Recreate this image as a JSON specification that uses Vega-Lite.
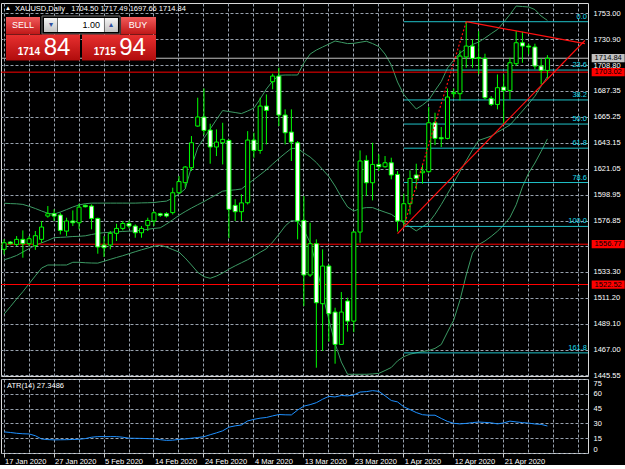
{
"$schema":"https://vega.github.io/schema/vega-lite/v6.json",
"background":"#000000",
"padding":{"left":0,"top":2,"right":0,"bottom":0},
"spacing":3,
"bounds":"flush",
"config":{"view":{"stroke":"#d8d8d8","strokeWidth":1},"concat":{"spacing":3},
"axis":{"labelFont":"Liberation Sans","labelFontSize":7.5,"labelColor":"#ffffff","gridColor":"#98a2ae","gridDash":[3,2],"gridWidth":1,"domain":false,"tickColor":"#c8c8c8","labelOverlap":false},
"text":{"font":"Liberation Sans"}},
"datasets":{
"bars":[
{"d":"17 Jan 2020","o":1552.4,"h":1561,"l":1548,"c":1558,"u":1591.6,"m":1543.5,"lb":1497.4,"atr":21.4},
{"d":"19 Jan 2020","o":1558.6,"h":1559.5,"l":1556.5,"c":1557.2,"u":1591.3,"m":1545.2,"lb":1503.7,"atr":20.8},
{"d":"20 Jan 2020","o":1556.6,"h":1563.7,"l":1555.2,"c":1560.9,"u":1591.1,"m":1547.2,"lb":1510.2,"atr":20},
{"d":"21 Jan 2020","o":1560.9,"h":1568.5,"l":1545.3,"c":1557.2,"u":1590.6,"m":1550.1,"lb":1516.4,"atr":19.5},
{"d":"22 Jan 2020","o":1557.2,"h":1563.7,"l":1555.2,"c":1561.4,"u":1589,"m":1553,"lb":1523.2,"atr":19.3},
{"d":"23 Jan 2020","o":1555.5,"h":1568,"l":1552,"c":1564,"u":1587.1,"m":1555.9,"lb":1529.9,"atr":17.5},
{"d":"24 Jan 2020","o":1560.9,"h":1576.5,"l":1558,"c":1571.4,"u":1585,"m":1557.9,"lb":1536.5,"atr":14.2},
{"d":"26 Jan 2020","o":1580.7,"h":1589.2,"l":1579.3,"c":1582.7,"u":1583.1,"m":1560,"lb":1539.1,"atr":13.6},
{"d":"27 Jan 2020","o":1582.7,"h":1586.4,"l":1576.5,"c":1580.7,"u":1582.4,"m":1562.3,"lb":1539.1,"atr":13.3},
{"d":"28 Jan 2020","o":1581.6,"h":1583.5,"l":1565.1,"c":1568.5,"u":1584.1,"m":1562.6,"lb":1539.1,"atr":13.4},
{"d":"29 Jan 2020","o":1567.9,"h":1579.3,"l":1563.7,"c":1576.5,"u":1586.2,"m":1562.9,"lb":1539.1,"atr":13.5},
{"d":"30 Jan 2020","o":1576.5,"h":1585.5,"l":1572.2,"c":1575,"u":1588.4,"m":1563.3,"lb":1541.4,"atr":13.7},
{"d":"31 Jan 2020","o":1575,"h":1591.2,"l":1569.4,"c":1588.3,"u":1590.2,"m":1563.5,"lb":1541.4,"atr":13.9},
{"d":"2 Feb 2020","o":1589.8,"h":1590.5,"l":1588,"c":1588.6,"u":1591.2,"m":1563.9,"lb":1541,"atr":14.6},
{"d":"3 Feb 2020","o":1589.2,"h":1590.6,"l":1569.4,"c":1578.7,"u":1591.7,"m":1565,"lb":1540.8,"atr":16},
{"d":"4 Feb 2020","o":1578.7,"h":1579.3,"l":1548.7,"c":1554.4,"u":1591.7,"m":1566,"lb":1540.7,"atr":16.6},
{"d":"5 Feb 2020","o":1556.1,"h":1563.7,"l":1545.9,"c":1553.8,"u":1591.7,"m":1566.6,"lb":1542.3,"atr":16.6},
{"d":"6 Feb 2020","o":1556.1,"h":1568,"l":1552.4,"c":1566,"u":1591.7,"m":1566.9,"lb":1543.9,"atr":16.6},
{"d":"7 Feb 2020","o":1566,"h":1574.2,"l":1559.5,"c":1570.2,"u":1591.7,"m":1567.3,"lb":1545.5,"atr":16.6},
{"d":"9 Feb 2020","o":1570.2,"h":1576.5,"l":1568.5,"c":1574.4,"u":1591.7,"m":1567.6,"lb":1547,"atr":16},
{"d":"10 Feb 2020","o":1574.4,"h":1577,"l":1570.2,"c":1572.2,"u":1591.7,"m":1567.9,"lb":1548.7,"atr":15},
{"d":"11 Feb 2020","o":1572.2,"h":1573.6,"l":1562.3,"c":1566.5,"u":1591.7,"m":1568,"lb":1550.4,"atr":14.9},
{"d":"12 Feb 2020","o":1566.5,"h":1572.2,"l":1562.3,"c":1570.2,"u":1591.9,"m":1568.7,"lb":1552,"atr":14.8},
{"d":"13 Feb 2020","o":1572.8,"h":1579.3,"l":1568,"c":1577,"u":1592,"m":1569.4,"lb":1553.5,"atr":14.6},
{"d":"14 Feb 2020","o":1576.5,"h":1584.9,"l":1572.2,"c":1583.5,"u":1592.2,"m":1570.2,"lb":1555,"atr":14.4},
{"d":"16 Feb 2020","o":1582.7,"h":1583.5,"l":1580,"c":1581.3,"u":1592.9,"m":1570.7,"lb":1555.9,"atr":13.5},
{"d":"17 Feb 2020","o":1582.7,"h":1584,"l":1579.5,"c":1580.7,"u":1593.4,"m":1573.9,"lb":1554.4,"atr":12.8},
{"d":"18 Feb 2020","o":1583.6,"h":1604.8,"l":1582,"c":1600.5,"u":1596,"m":1577.5,"lb":1552.2,"atr":13},
{"d":"19 Feb 2020","o":1600.5,"h":1614.7,"l":1599.7,"c":1610,"u":1599.4,"m":1581.3,"lb":1550.1,"atr":13.8},
{"d":"20 Feb 2020","o":1609.1,"h":1623.2,"l":1604.8,"c":1622.4,"u":1603.7,"m":1584.5,"lb":1545,"atr":14.2},
{"d":"21 Feb 2020","o":1621.8,"h":1648.7,"l":1619,"c":1643,"u":1622.4,"m":1587.5,"lb":1539.1,"atr":15},
{"d":"23 Feb 2020","o":1657.2,"h":1681.3,"l":1656.6,"c":1664.9,"u":1638.8,"m":1590.3,"lb":1532.9,"atr":15.7},
{"d":"24 Feb 2020","o":1664.9,"h":1689.2,"l":1649.6,"c":1653.5,"u":1647,"m":1593,"lb":1529.2,"atr":16.5},
{"d":"25 Feb 2020","o":1653.8,"h":1659.2,"l":1625.2,"c":1639.4,"u":1654.7,"m":1596,"lb":1527.8,"atr":18.5},
{"d":"26 Feb 2020","o":1639.4,"h":1654.4,"l":1631.7,"c":1643.6,"u":1662.7,"m":1598.9,"lb":1529.7,"atr":20.4},
{"d":"27 Feb 2020","o":1643,"h":1660,"l":1624.6,"c":1645.9,"u":1670.4,"m":1601.9,"lb":1532.3,"atr":22.5},
{"d":"28 Feb 2020","o":1645,"h":1645.9,"l":1562,"c":1586.4,"u":1669.5,"m":1602.5,"lb":1535.6,"atr":26.2},
{"d":"1 Mar 2020","o":1589.8,"h":1595,"l":1576.5,"c":1584.4,"u":1668.7,"m":1603,"lb":1538.4,"atr":27.5},
{"d":"2 Mar 2020","o":1584.4,"h":1599.2,"l":1576.5,"c":1591.9,"u":1667.8,"m":1603.7,"lb":1541,"atr":28.4},
{"d":"3 Mar 2020","o":1592,"h":1652.9,"l":1590.6,"c":1645.3,"u":1670,"m":1607.9,"lb":1543.6,"atr":32.5},
{"d":"4 Mar 2020","o":1645.3,"h":1651.5,"l":1630.3,"c":1636.5,"u":1672.5,"m":1611.8,"lb":1546.7,"atr":34.1},
{"d":"5 Mar 2020","o":1636.5,"h":1681.3,"l":1633.7,"c":1674.2,"u":1680.2,"m":1615.8,"lb":1549.9,"atr":35.3},
{"d":"6 Mar 2020","o":1674.2,"h":1684.1,"l":1641.6,"c":1670.5,"u":1688.7,"m":1620,"lb":1552.9,"atr":36},
{"d":"8 Mar 2020","o":1694.9,"h":1701.7,"l":1688.4,"c":1699.7,"u":1695.5,"m":1624.9,"lb":1558.6,"atr":37.6},
{"d":"9 Mar 2020","o":1699.7,"h":1706.8,"l":1657.2,"c":1666.6,"u":1700.3,"m":1629.6,"lb":1565.1,"atr":39},
{"d":"10 Mar 2020","o":1666.6,"h":1671.4,"l":1641.6,"c":1651.5,"u":1700.6,"m":1634,"lb":1572.2,"atr":38.7},
{"d":"11 Mar 2020","o":1652.1,"h":1671.4,"l":1627.5,"c":1643.6,"u":1700.6,"m":1638.2,"lb":1576.9,"atr":38.6},
{"d":"12 Mar 2020","o":1643,"h":1644.5,"l":1560.9,"c":1576.5,"u":1700.6,"m":1638.2,"lb":1576,"atr":43.5},
{"d":"13 Mar 2020","o":1577,"h":1597.7,"l":1504.2,"c":1530.6,"u":1710.8,"m":1634.3,"lb":1568.8,"atr":47.5},
{"d":"15 Mar 2020","o":1530.6,"h":1575,"l":1529,"c":1557.2,"u":1718.4,"m":1630.9,"lb":1558.2,"atr":49},
{"d":"16 Mar 2020","o":1557.2,"h":1560.9,"l":1451.8,"c":1507,"u":1721.8,"m":1626.2,"lb":1539.3,"atr":51},
{"d":"17 Mar 2020","o":1506.2,"h":1552.4,"l":1466,"c":1538.2,"u":1724.4,"m":1620.2,"lb":1514.2,"atr":54.5},
{"d":"18 Mar 2020","o":1538.2,"h":1539.6,"l":1474,"c":1497.7,"u":1726.9,"m":1614.3,"lb":1492.6,"atr":57.4},
{"d":"19 Mar 2020","o":1499.1,"h":1502.8,"l":1455.2,"c":1471.6,"u":1729.5,"m":1606.2,"lb":1472.4,"atr":56.8},
{"d":"20 Mar 2020","o":1471.6,"h":1516.1,"l":1471.6,"c":1499.1,"u":1728.4,"m":1596.8,"lb":1456.6,"atr":58.3},
{"d":"22 Mar 2020","o":1508.5,"h":1511.3,"l":1482.4,"c":1491.4,"u":1727.3,"m":1588.4,"lb":1446.2,"atr":57.9},
{"d":"23 Mar 2020","o":1491.4,"h":1568,"l":1482,"c":1567.1,"u":1727.5,"m":1585,"lb":1446.2,"atr":58.8},
{"d":"24 Mar 2020","o":1567.1,"h":1636.5,"l":1558.1,"c":1627.5,"u":1728.4,"m":1587,"lb":1446.2,"atr":61.8},
{"d":"25 Mar 2020","o":1628,"h":1632.3,"l":1597.7,"c":1609,"u":1729.3,"m":1587.9,"lb":1446.2,"atr":62.2},
{"d":"26 Mar 2020","o":1609,"h":1643,"l":1594,"c":1624.6,"u":1727.3,"m":1587.9,"lb":1446.5,"atr":63.2},
{"d":"27 Mar 2020","o":1624.6,"h":1633.1,"l":1619,"c":1622.6,"u":1724.8,"m":1585.9,"lb":1447,"atr":62.5},
{"d":"29 Mar 2020","o":1622.6,"h":1631.7,"l":1621.8,"c":1626,"u":1718.4,"m":1584,"lb":1449.4,"atr":58},
{"d":"30 Mar 2020","o":1626,"h":1630.3,"l":1611.9,"c":1615.6,"u":1709.1,"m":1582.2,"lb":1452,"atr":53.2},
{"d":"31 Mar 2020","o":1616.1,"h":1618.9,"l":1567.5,"c":1576.5,"u":1694.6,"m":1578.5,"lb":1457.6,"atr":51.8},
{"d":"1 Apr 2020","o":1576.5,"h":1599.7,"l":1571.9,"c":1591.2,"u":1684,"m":1574.8,"lb":1461.2,"atr":46.8},
{"d":"2 Apr 2020","o":1591.2,"h":1619.5,"l":1582.1,"c":1612.7,"u":1677.6,"m":1571.6,"lb":1463.3,"atr":44},
{"d":"3 Apr 2020","o":1615.6,"h":1625.2,"l":1603.4,"c":1612.7,"u":1671.7,"m":1568.1,"lb":1464.5,"atr":41},
{"d":"5 Apr 2020","o":1617.5,"h":1624.6,"l":1608.2,"c":1618.9,"u":1675.1,"m":1571.6,"lb":1465.5,"atr":38.8},
{"d":"6 Apr 2020","o":1618.4,"h":1673.4,"l":1617.5,"c":1660,"u":1679.3,"m":1575.2,"lb":1466.4,"atr":38.3},
{"d":"7 Apr 2020","o":1660,"h":1668.5,"l":1641,"c":1646.7,"u":1687.4,"m":1582.2,"lb":1468.2,"atr":38.3},
{"d":"8 Apr 2020","o":1647.3,"h":1656.4,"l":1639.4,"c":1646.4,"u":1695,"m":1590.5,"lb":1471.5,"atr":35},
{"d":"9 Apr 2020","o":1646.7,"h":1689.2,"l":1645.9,"c":1681.9,"u":1706.5,"m":1599.6,"lb":1482.1,"atr":32},
{"d":"12 Apr 2020","o":1684.7,"h":1689.2,"l":1681.3,"c":1685.6,"u":1713.3,"m":1609,"lb":1492.3,"atr":30.1},
{"d":"13 Apr 2020","o":1684.7,"h":1721.5,"l":1679,"c":1716.7,"u":1719.3,"m":1618.5,"lb":1509.3,"atr":29.5},
{"d":"14 Apr 2020","o":1715.9,"h":1745.9,"l":1706.8,"c":1725.2,"u":1723.1,"m":1627.8,"lb":1530.6,"atr":30},
{"d":"15 Apr 2020","o":1725.2,"h":1730.9,"l":1706.8,"c":1714.7,"u":1726.5,"m":1637,"lb":1549.3,"atr":30.8},
{"d":"16 Apr 2020","o":1714.7,"h":1737.9,"l":1701.2,"c":1715.5,"u":1728.6,"m":1645,"lb":1556.5,"atr":31.4},
{"d":"17 Apr 2020","o":1714.7,"h":1718.7,"l":1679.8,"c":1681.3,"u":1732,"m":1646.8,"lb":1559.5,"atr":31},
{"d":"19 Apr 2020","o":1680.7,"h":1682.7,"l":1674.2,"c":1675.6,"u":1735.8,"m":1648.7,"lb":1563.4,"atr":30.6},
{"d":"20 Apr 2020","o":1675.6,"h":1701.1,"l":1671.4,"c":1689.8,"u":1739.3,"m":1652,"lb":1567.8,"atr":29.5},
{"d":"21 Apr 2020","o":1690.4,"h":1701.1,"l":1658.6,"c":1687.5,"u":1745.4,"m":1655,"lb":1573.1,"atr":30.5},
{"d":"22 Apr 2020","o":1687.5,"h":1715.3,"l":1679.9,"c":1711,"u":1752,"m":1658.1,"lb":1579.5,"atr":32.3},
{"d":"23 Apr 2020","o":1710.2,"h":1737.9,"l":1708.2,"c":1728,"u":1759.2,"m":1664,"lb":1590.3,"atr":31.5},
{"d":"24 Apr 2020","o":1728,"h":1737.4,"l":1711,"c":1725.2,"u":1758.8,"m":1670,"lb":1605.5,"atr":30.8},
{"d":"26 Apr 2020","o":1725.2,"h":1727.2,"l":1718.1,"c":1724.4,"u":1758.4,"m":1676.2,"lb":1617.3,"atr":30.3},
{"d":"27 Apr 2020","o":1724.4,"h":1727.2,"l":1705.4,"c":1708.2,"u":1756.2,"m":1682.6,"lb":1625.8,"atr":29.4},
{"d":"28 Apr 2020","o":1708.2,"h":1714.7,"l":1692.6,"c":1704.5,"u":1750.7,"m":1691.2,"lb":1635.7,"atr":29},
{"d":"29 Apr 2020","o":1704.5,"h":1717.49,"l":1697.66,"c":1714.84,"u":1747,"m":1699.2,"lb":1646.3,"atr":27.35}
],
"fib":[{"lbl":"0.0","p":1745.9},{"lbl":"23.6","p":1704.8},{"lbl":"38.2","p":1679.4},{"lbl":"50.0","p":1658.9},{"lbl":"61.8","p":1638.4},{"lbl":"78.6","p":1609.2},{"lbl":"100.0","p":1571.9},{"lbl":"161.8","p":1464.4}],
"hl":[{"p":1714.84,"kind":"bid"},{"p":1703.02,"kind":"level"},{"p":1556.77,"kind":"level"},{"p":1522.52,"kind":"level"}],
"trend":[{"line":"down","d":"14 Apr 2020","p":1745.9},{"line":"down","d":"6 May 2020","p":1727.3},{"line":"up","d":"31 Mar 2020","p":1565.8},{"line":"up","d":"6 May 2020","p":1729.9}],
"fibtrend":[{"d":"1 Apr 2020","p":1571.9},{"d":"14 Apr 2020","p":1745.9}]
},
"vconcat":[
{"width":587,"height":373,
"layer":[
{"data":{"name":"bars"},"mark":{"type":"line","color":"#3c9a64","strokeWidth":1},
"encoding":{"x":{"field":"d","type":"nominal","scale":{"type":"band","paddingInner":0,"paddingOuter":0,"domain":["17 Jan 2020","19 Jan 2020","20 Jan 2020","21 Jan 2020","22 Jan 2020","23 Jan 2020","24 Jan 2020","26 Jan 2020","27 Jan 2020","28 Jan 2020","29 Jan 2020","30 Jan 2020","31 Jan 2020","2 Feb 2020","3 Feb 2020","4 Feb 2020","5 Feb 2020","6 Feb 2020","7 Feb 2020","9 Feb 2020","10 Feb 2020","11 Feb 2020","12 Feb 2020","13 Feb 2020","14 Feb 2020","16 Feb 2020","17 Feb 2020","18 Feb 2020","19 Feb 2020","20 Feb 2020","21 Feb 2020","23 Feb 2020","24 Feb 2020","25 Feb 2020","26 Feb 2020","27 Feb 2020","28 Feb 2020","1 Mar 2020","2 Mar 2020","3 Mar 2020","4 Mar 2020","5 Mar 2020","6 Mar 2020","8 Mar 2020","9 Mar 2020","10 Mar 2020","11 Mar 2020","12 Mar 2020","13 Mar 2020","15 Mar 2020","16 Mar 2020","17 Mar 2020","18 Mar 2020","19 Mar 2020","20 Mar 2020","22 Mar 2020","23 Mar 2020","24 Mar 2020","25 Mar 2020","26 Mar 2020","27 Mar 2020","29 Mar 2020","30 Mar 2020","31 Mar 2020","1 Apr 2020","2 Apr 2020","3 Apr 2020","5 Apr 2020","6 Apr 2020","7 Apr 2020","8 Apr 2020","9 Apr 2020","12 Apr 2020","13 Apr 2020","14 Apr 2020","15 Apr 2020","16 Apr 2020","17 Apr 2020","19 Apr 2020","20 Apr 2020","21 Apr 2020","22 Apr 2020","23 Apr 2020","24 Apr 2020","26 Apr 2020","27 Apr 2020","28 Apr 2020","29 Apr 2020","30 Apr 2020","1 May 2020","3 May 2020","4 May 2020","5 May 2020","6 May 2020"]},
"axis":{"values":["17 Jan 2020","22 Jan 2020","27 Jan 2020","31 Jan 2020","5 Feb 2020","10 Feb 2020","14 Feb 2020","19 Feb 2020","24 Feb 2020","28 Feb 2020","4 Mar 2020","9 Mar 2020","13 Mar 2020","18 Mar 2020","23 Mar 2020","27 Mar 2020","1 Apr 2020","6 Apr 2020","12 Apr 2020","16 Apr 2020","21 Apr 2020","26 Apr 2020","30 Apr 2020","5 May 2020"],"labels":false,"ticks":false,"grid":true,"bandPosition":0.5,"minExtent":0,"maxExtent":0,"title":null}},
"y":{"field":"u","type":"quantitative","scale":{"domain":[1444.75,1761.8],"nice":false,"zero":false},
"axis":{"orient":"right","values":[1753.00,1730.90,1708.80,1687.35,1665.25,1643.15,1621.05,1598.95,1576.85,1555.40,1533.30,1511.20,1489.10,1467.00,1445.55],"tickCount":100,"format":".2f","grid":true,"ticks":false,"labelPadding":5,"labelOverlap":false,"title":null}},
"order":{"value":null}}},
{"data":{"name":"bars"},"mark":{"type":"line","color":"#3c9a64","strokeWidth":1},"encoding":{"x":{"field":"d","type":"nominal"},"y":{"field":"m","type":"quantitative"},"order":{"value":null}}},
{"data":{"name":"bars"},"mark":{"type":"line","color":"#3c9a64","strokeWidth":1},"encoding":{"x":{"field":"d","type":"nominal"},"y":{"field":"lb","type":"quantitative"},"order":{"value":null}}},
{"data":{"name":"fib"},"mark":{"type":"rule","color":"#1fc1c8","strokeWidth":1},"encoding":{"x":{"datum":"1 Apr 2020"},"x2":{"datum":"6 May 2020","bandPosition":1},"y":{"field":"p","type":"quantitative"}}},
{"data":{"name":"hl"},"mark":{"type":"rule","strokeWidth":1},"encoding":{"y":{"field":"p","type":"quantitative"},"color":{"field":"kind","type":"nominal","scale":{"domain":["bid","level"],"range":["#c0c0c0","#ff0000"]},"legend":null}}},
{"data":{"name":"bars"},"mark":{"type":"rule","color":"#00ff00","strokeWidth":1},"encoding":{"x":{"field":"d","type":"nominal"},"y":{"field":"l","type":"quantitative"},"y2":{"field":"h"}}},
{"data":{"name":"bars"},"mark":{"type":"bar","width":4,"stroke":"#00ff00","strokeWidth":1},"encoding":{"x":{"field":"d","type":"nominal"},"y":{"field":"o","type":"quantitative"},"y2":{"field":"c"},"fill":{"condition":{"test":"datum.c >= datum.o","value":"#000000"},"value":"#ffffff"}}},
{"data":{"name":"trend"},"mark":{"type":"line","color":"#ff1010","strokeWidth":1.2},"encoding":{"x":{"field":"d","type":"nominal"},"y":{"field":"p","type":"quantitative"},"detail":{"field":"line"},"order":{"value":null}}},
{"data":{"name":"fibtrend"},"mark":{"type":"line","color":"#ff1010","strokeWidth":1.2,"strokeDash":[2,2]},"encoding":{"x":{"field":"d","type":"nominal"},"y":{"field":"p","type":"quantitative"},"order":{"value":null}}},
{"data":{"name":"fib"},"mark":{"type":"text","align":"right","baseline":"bottom","dx":-1,"dy":-1,"fontSize":7.5,"color":"#19dcec"},"encoding":{"x":{"datum":"6 May 2020","bandPosition":1},"y":{"field":"p","type":"quantitative"},"text":{"field":"lbl"}}},
{"data":{"name":"hl"},"mark":{"type":"point","shape":"M-1,-0.25L1,-0.25L1,0.25L-1,0.25Z","size":1089,"filled":true,"opacity":1,"xOffset":23.3},"encoding":{"x":{"datum":"6 May 2020"},"y":{"field":"p","type":"quantitative"},"color":{"field":"kind","type":"nominal","legend":null}}},
{"data":{"name":"hl"},"mark":{"type":"text","align":"center","baseline":"middle","dx":23.3,"fontSize":7.5,"color":"#000000"},"encoding":{"x":{"datum":"6 May 2020"},"y":{"field":"p","type":"quantitative"},"text":{"field":"p","format":".2f"}}},
{"data":{"values":[{}]},"mark":{"type":"text","align":"center","baseline":"middle","fontSize":6,"color":"#ffffff"},"encoding":{"x":{"datum":"19 Jan 2020","bandPosition":0.12},"y":{"datum":1757.5},"text":{"value":"▲"}}},
{"data":{"values":[{}]},"mark":{"type":"text","align":"left","baseline":"middle","fontSize":7.5,"color":"#ffffff"},"encoding":{"x":{"datum":"20 Jan 2020","bandPosition":0.24},"y":{"datum":1757.1},"text":{"value":"XAUUSD,Daily\u00a0\u00a0 1704.50 1717.49 1697.66 1714.84"}}},
{"data":{"values":[{}]},"mark":{"type":"rect","fill":{"gradient":"linear","x1":0,"y1":0,"x2":0,"y2":1,"stops":[{"offset":0,"color":"#f25a5a"},{"offset":1,"color":"#c01818"}]}},"encoding":{"x":{"datum":"17 Jan 2020","bandPosition":0.8},"x2":{"datum":"24 Jan 2020","bandPosition":0.245},"y":{"datum":1749.9},"y2":{"datum":1735.45}}},
{"data":{"values":[{}]},"mark":{"type":"rect","fill":{"gradient":"linear","x1":0,"y1":0,"x2":0,"y2":1,"stops":[{"offset":0,"color":"#f25a5a"},{"offset":1,"color":"#c01818"}]}},"encoding":{"x":{"datum":"9 Feb 2020","bandPosition":0.22},"x2":{"datum":"14 Feb 2020","bandPosition":0.82},"y":{"datum":1749.9},"y2":{"datum":1735.45}}},
{"data":{"values":[{}]},"mark":{"type":"rect","fill":"#000000","stroke":"#707070","strokeWidth":1},"encoding":{"x":{"datum":"24 Jan 2020","bandPosition":0.565},"x2":{"datum":"9 Feb 2020","bandPosition":0.06},"y":{"datum":1750.75},"y2":{"datum":1735.45}}},
{"data":{"values":[{}]},"mark":{"type":"rect","fill":{"gradient":"linear","x1":0,"y1":0,"x2":0,"y2":1,"stops":[{"offset":0,"color":"#f4f4f4"},{"offset":1,"color":"#c4c4c4"}]}},"encoding":{"x":{"datum":"24 Jan 2020","bandPosition":0.885},"x2":{"datum":"28 Jan 2020","bandPosition":0.047},"y":{"datum":1749.05},"y2":{"datum":1737.15}}},
{"data":{"values":[{}]},"mark":{"type":"rect","fill":"#ffffff"},"encoding":{"x":{"datum":"28 Jan 2020","bandPosition":0.127},"x2":{"datum":"5 Feb 2020","bandPosition":0.49},"y":{"datum":1749.05},"y2":{"datum":1737.15}}},
{"data":{"values":[{}]},"mark":{"type":"rect","fill":{"gradient":"linear","x1":0,"y1":0,"x2":0,"y2":1,"stops":[{"offset":0,"color":"#f4f4f4"},{"offset":1,"color":"#c4c4c4"}]}},"encoding":{"x":{"datum":"5 Feb 2020","bandPosition":0.57},"x2":{"datum":"7 Feb 2020","bandPosition":0.73},"y":{"datum":1749.05},"y2":{"datum":1737.15}}},
{"data":{"values":[{}]},"mark":{"type":"rect","fill":{"gradient":"linear","x1":0,"y1":0,"x2":0,"y2":1,"stops":[{"offset":0,"color":"#e83030"},{"offset":1,"color":"#b00c0c"}]}},"encoding":{"x":{"datum":"17 Jan 2020","bandPosition":0.8},"x2":{"datum":"31 Jan 2020","bandPosition":0.65},"y":{"datum":1735.0},"y2":{"datum":1712.9}}},
{"data":{"values":[{}]},"mark":{"type":"rect","fill":{"gradient":"linear","x1":0,"y1":0,"x2":0,"y2":1,"stops":[{"offset":0,"color":"#e83030"},{"offset":1,"color":"#b00c0c"}]}},"encoding":{"x":{"datum":"31 Jan 2020","bandPosition":0.97},"x2":{"datum":"14 Feb 2020","bandPosition":0.82},"y":{"datum":1735.0},"y2":{"datum":1712.9}}},
{"data":{"values":[{}]},"mark":{"type":"text","align":"center","baseline":"middle","fontSize":9,"color":"#ffffff"},"encoding":{"x":{"datum":"21 Jan 2020","bandPosition":0.52},"y":{"datum":1742.7},"text":{"value":"SELL"}}},
{"data":{"values":[{}]},"mark":{"type":"text","align":"center","baseline":"middle","fontSize":9,"color":"#ffffff"},"encoding":{"x":{"datum":"11 Feb 2020","bandPosition":0.94},"y":{"datum":1742.7},"text":{"value":"BUY"}}},
{"data":{"values":[{}]},"mark":{"type":"text","align":"right","baseline":"middle","fontSize":9,"color":"#000000"},"encoding":{"x":{"datum":"4 Feb 2020","bandPosition":0.85},"y":{"datum":1743.0},"text":{"value":"1.00"}}},
{"data":{"values":[{}]},"mark":{"type":"text","align":"center","baseline":"middle","fontSize":8,"color":"#3050a0"},"encoding":{"x":{"datum":"26 Jan 2020","bandPosition":0.97},"y":{"datum":1743.0},"text":{"value":"▾"}}},
{"data":{"values":[{}]},"mark":{"type":"text","align":"center","baseline":"middle","fontSize":8,"color":"#3050a0"},"encoding":{"x":{"datum":"6 Feb 2020","bandPosition":0.65},"y":{"datum":1743.0},"text":{"value":"▴"}}},
{"data":{"values":[{}]},"mark":{"type":"text","align":"right","baseline":"alphabetic","fontSize":10,"fontWeight":"bold","color":"#ffffff"},"encoding":{"x":{"datum":"24 Jan 2020","bandPosition":0.245},"y":{"datum":1717.6},"text":{"value":"1714"}}},
{"data":{"values":[{}]},"mark":{"type":"text","align":"left","baseline":"alphabetic","fontSize":24,"color":"#ffffff"},"encoding":{"x":{"datum":"24 Jan 2020","bandPosition":0.84},"y":{"datum":1717.4},"text":{"value":"84"}}},
{"data":{"values":[{}]},"mark":{"type":"text","align":"right","baseline":"alphabetic","fontSize":10,"fontWeight":"bold","color":"#ffffff"},"encoding":{"x":{"datum":"7 Feb 2020","bandPosition":0.41},"y":{"datum":1717.6},"text":{"value":"1715"}}},
{"data":{"values":[{}]},"mark":{"type":"text","align":"left","baseline":"alphabetic","fontSize":24,"color":"#ffffff"},"encoding":{"x":{"datum":"7 Feb 2020","bandPosition":0.94},"y":{"datum":1717.4},"text":{"value":"94"}}}
]},
{"width":587,"height":74,
"layer":[
{"data":{"name":"bars"},"mark":{"type":"line","color":"#1e90ff","strokeWidth":1},
"encoding":{"x":{"field":"d","type":"nominal","scale":{"type":"band","paddingInner":0,"paddingOuter":0,"domain":["17 Jan 2020","19 Jan 2020","20 Jan 2020","21 Jan 2020","22 Jan 2020","23 Jan 2020","24 Jan 2020","26 Jan 2020","27 Jan 2020","28 Jan 2020","29 Jan 2020","30 Jan 2020","31 Jan 2020","2 Feb 2020","3 Feb 2020","4 Feb 2020","5 Feb 2020","6 Feb 2020","7 Feb 2020","9 Feb 2020","10 Feb 2020","11 Feb 2020","12 Feb 2020","13 Feb 2020","14 Feb 2020","16 Feb 2020","17 Feb 2020","18 Feb 2020","19 Feb 2020","20 Feb 2020","21 Feb 2020","23 Feb 2020","24 Feb 2020","25 Feb 2020","26 Feb 2020","27 Feb 2020","28 Feb 2020","1 Mar 2020","2 Mar 2020","3 Mar 2020","4 Mar 2020","5 Mar 2020","6 Mar 2020","8 Mar 2020","9 Mar 2020","10 Mar 2020","11 Mar 2020","12 Mar 2020","13 Mar 2020","15 Mar 2020","16 Mar 2020","17 Mar 2020","18 Mar 2020","19 Mar 2020","20 Mar 2020","22 Mar 2020","23 Mar 2020","24 Mar 2020","25 Mar 2020","26 Mar 2020","27 Mar 2020","29 Mar 2020","30 Mar 2020","31 Mar 2020","1 Apr 2020","2 Apr 2020","3 Apr 2020","5 Apr 2020","6 Apr 2020","7 Apr 2020","8 Apr 2020","9 Apr 2020","12 Apr 2020","13 Apr 2020","14 Apr 2020","15 Apr 2020","16 Apr 2020","17 Apr 2020","19 Apr 2020","20 Apr 2020","21 Apr 2020","22 Apr 2020","23 Apr 2020","24 Apr 2020","26 Apr 2020","27 Apr 2020","28 Apr 2020","29 Apr 2020","30 Apr 2020","1 May 2020","3 May 2020","4 May 2020","5 May 2020","6 May 2020"]},
"axis":{"values":["17 Jan 2020","22 Jan 2020","27 Jan 2020","31 Jan 2020","5 Feb 2020","10 Feb 2020","14 Feb 2020","19 Feb 2020","24 Feb 2020","28 Feb 2020","4 Mar 2020","9 Mar 2020","13 Mar 2020","18 Mar 2020","23 Mar 2020","27 Mar 2020","1 Apr 2020","6 Apr 2020","12 Apr 2020","16 Apr 2020","21 Apr 2020","26 Apr 2020","30 Apr 2020","5 May 2020"],
"labelExpr":"indexof(['17 Jan 2020','27 Jan 2020','5 Feb 2020','14 Feb 2020','24 Feb 2020','4 Mar 2020','13 Mar 2020','23 Mar 2020','1 Apr 2020','12 Apr 2020','21 Apr 2020'], datum.value) >= 0 ? datum.value : ''",
"tickOpacity":{"condition":{"test":"indexof(['17 Jan 2020','27 Jan 2020','5 Feb 2020','14 Feb 2020','24 Feb 2020','4 Mar 2020','13 Mar 2020','23 Mar 2020','1 Apr 2020','12 Apr 2020','21 Apr 2020'], datum.value) >= 0","value":1},"value":0},
"labelAlign":"left","labelAngle":0,"labelOffset":1,"labelPadding":0,"tickSize":4,"grid":true,"bandPosition":0.5,"labelOverlap":false,"title":null}},
"y":{"field":"atr","type":"quantitative","scale":{"domain":[0,75],"nice":false,"zero":false},
"axis":{"orient":"right","values":[0,15,30,45,60,75],"tickCount":100,"grid":true,"labelFlush":true,"ticks":false,"labelPadding":5,"labelOverlap":false,"title":null}},
"order":{"value":null}}},
{"data":{"values":[{}]},"mark":{"type":"text","align":"left","baseline":"middle","fontSize":7.5,"color":"#ffffff"},"encoding":{"x":{"datum":"17 Jan 2020","bandPosition":0.96},"y":{"datum":67.8},"text":{"value":"ATR(14) 27.3486"}}}
]}
]
}
